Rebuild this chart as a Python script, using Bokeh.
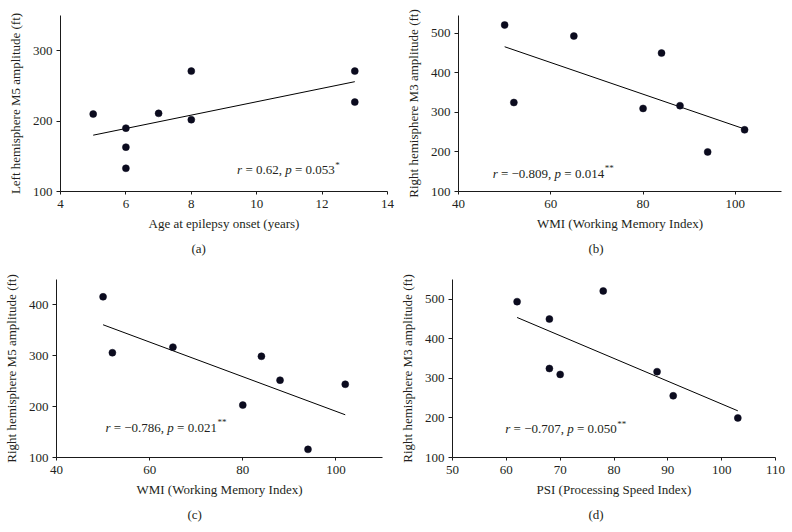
from bokeh.plotting import figure
from bokeh.layouts import column, row
from bokeh.models import Label, FixedTicker, Range1d, Title
from bokeh.embed import file_html
from bokeh.resources import INLINE

FONT = "Liberation Serif"
INK = "#231f20"
DOT = "#0b0b1e"
NB = "\u00a0"

# ---- data ----
a_x = [5, 6, 6, 6, 7, 8, 8, 13, 13]
a_y = [210, 190, 163, 133, 211, 271, 202, 271, 227]
a_fit_x = [5, 13]
a_fit_y = [180, 256]
a_xticks = [4, 6, 8, 10, 12, 14]
a_yticks = [100, 200, 300]

b_x = [50, 52, 65, 80, 84, 88, 94, 102]
b_y = [521, 325, 493, 310, 450, 317, 200, 256]
b_fit_x = [50, 102]
b_fit_y = [466, 258]
b_xticks = [40, 60, 80, 100]
b_yticks = [100, 200, 300, 400, 500]

c_x = [50, 52, 65, 80, 84, 88, 94, 102]
c_y = [416, 306, 317, 203, 299, 252, 116, 244]
c_fit_x = [50, 102]
c_fit_y = [361, 184]
c_xticks = [40, 60, 80, 100]
c_yticks = [100, 200, 300, 400]

d_x = [62, 68, 68, 70, 78, 88, 91, 103]
d_y = [494, 450, 325, 310, 521, 317, 256, 200]
d_fit_x = [62, 103]
d_fit_y = [454, 218]
d_xticks = [50, 60, 70, 80, 90, 100, 110]
d_yticks = [100, 200, 300, 400, 500]

# Times-like glyph advance widths (per 1000 em)
REG = {' ': 250, NB: 250, '=': 564, ',': 250, '.': 250, '\u2212': 564, '*': 500}
for ch in "0123456789":
    REG[ch] = 500
ITA = {'r': 389, 'p': 500}


def text_width(s, size, italic=False):
    table = ITA if italic else REG
    return sum(table.get(ch, 500) for ch in s) * size / 1000.0


def make_panel(xs, ys, fx, fy, xr, yr, xticks, yticks, xlabel, ylabel,
               width, height, borders, r_txt, p_txt, stars, anchor, tag, tag_off):
    left, right, top, bottom = borders
    p = figure(width=width, height=height, output_backend="svg",
               toolbar_location=None, x_range=Range1d(*xr), y_range=Range1d(*yr),
               min_border_left=left, min_border_right=right,
               min_border_top=top, min_border_bottom=bottom)
    p.background_fill_color = "white"
    p.border_fill_color = "white"
    p.outline_line_color = None
    p.xgrid.visible = False
    p.ygrid.visible = False
    p.xaxis.ticker = FixedTicker(ticks=xticks)
    p.yaxis.ticker = FixedTicker(ticks=yticks)
    for ax in (p.xaxis[0], p.yaxis[0]):
        ax.axis_line_color = "#1a1a1a"
        ax.axis_line_width = 1
        ax.major_tick_line_color = "#1a1a1a"
        ax.major_tick_in = 0
        ax.minor_tick_in = 0
        ax.minor_tick_out = 0
        ax.major_label_text_font = FONT
        ax.major_label_text_font_size = "13px"
        ax.major_label_text_color = INK
        ax.axis_label_text_font = FONT
        ax.axis_label_text_font_size = "13px"
        ax.axis_label_text_font_style = "normal"
        ax.axis_label_text_color = INK
    p.xaxis.major_tick_out = 3
    p.yaxis.major_tick_out = 4
    p.xaxis.major_label_standoff = 5
    p.yaxis.major_label_standoff = 4
    p.xaxis.axis_label = xlabel
    p.yaxis.axis_label = ylabel
    p.xaxis.axis_label_standoff = 5
    p.yaxis.axis_label_standoff = 7

    p.line(fx, fy, line_color="black", line_width=1)
    p.scatter(xs, ys, size=7, fill_color=DOT, line_color=DOT, line_width=0.5)

    # annotation "r = ..., p = ...**"
    size = 13
    pieces = [("r", True), (r_txt, False), ("p", True), (p_txt, False)]
    off = 0.0
    for s, it in pieces:
        p.add_layout(Label(x=anchor[0], y=anchor[1], x_offset=off, text=s,
                           text_font=FONT, text_font_size=f"{size}px",
                           text_font_style="italic" if it else "normal",
                           text_color=INK, text_baseline="middle"))
        off += text_width(s, size, it)
    p.add_layout(Label(x=anchor[0], y=anchor[1], x_offset=off + 0.5, y_offset=5,
                       text=stars, text_font=FONT, text_font_size="9px",
                       text_color=INK, text_baseline="middle"))

    # panel tag "(a)" etc.
    p.add_layout(Title(text=tag, align="left", offset=tag_off, standoff=11,
                       text_font=FONT, text_font_size="13px", text_font_style="normal",
                       text_color=INK), "below")
    return p


pa = make_panel(a_x, a_y, a_fit_x, a_fit_y, (4, 14), (100, 350), a_xticks, a_yticks,
                "Age at epilepsy onset (years)", "Left hemisphere M5 amplitude (ft)",
                396, 266, (60, 9, 15, 75), f"{NB}={NB}0.62,{NB}", f"{NB}={NB}0.053", "*",
                (9.4, 131), "(a)", 131)
pb = make_panel(b_x, b_y, b_fit_x, b_fit_y, (40, 110), (100, 545), b_xticks, b_yticks,
                "WMI (Working Memory Index)", "Right hemisphere M3 amplitude (ft)",
                396, 266, (62, 11, 15, 75), f"{NB}={NB}\u22120.809,{NB}", f"{NB}={NB}0.014", "**",
                (47.4, 146), "(b)", 130)
pc = make_panel(c_x, c_y, c_fit_x, c_fit_y, (40, 110), (100, 450), c_xticks, c_yticks,
                "WMI (Working Memory Index)", "Right hemisphere M5 amplitude (ft)",
                396, 266, (55, 14, 13, 75), f"{NB}={NB}\u22120.786,{NB}", f"{NB}={NB}0.021", "**",
                (50.5, 159), "(c)", 131)
pd_ = make_panel(d_x, d_y, d_fit_x, d_fit_y, (50, 110), (100, 550), d_xticks, d_yticks,
                 "PSI (Processing Speed Index)", "Right hemisphere M3 amplitude (ft)",
                 396, 266, (53, 17, 13, 75), f"{NB}={NB}\u22120.707,{NB}", f"{NB}={NB}0.050", "**",
                 (59.8, 173), "(d)", 136)

layout = column(row(pa, pb), row(pc, pd_))

open("out.html", "w").write(file_html(layout, INLINE))
